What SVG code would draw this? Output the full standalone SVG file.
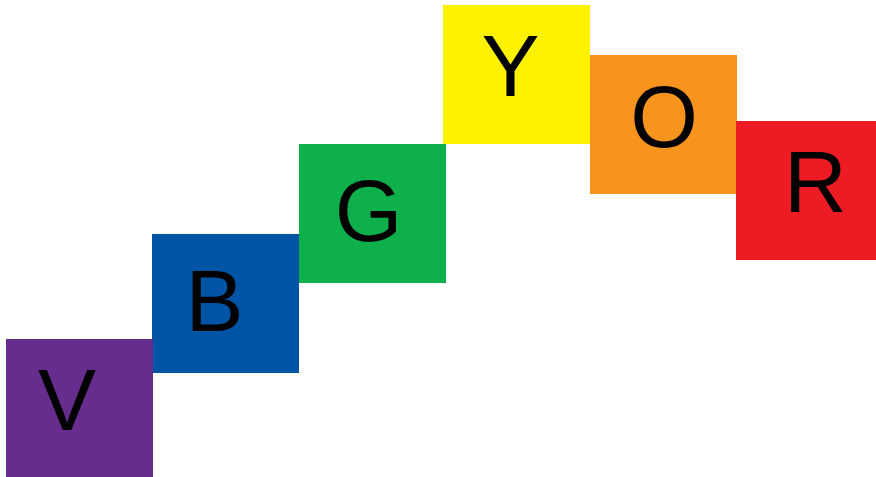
<svg xmlns="http://www.w3.org/2000/svg" width="876" height="477" viewBox="0 0 876 477">
<style>
text{font-family:"Liberation Sans",Arial,sans-serif;font-size:87px;fill:#000;text-anchor:middle}
</style>
<rect width="876" height="477" fill="#fff"/>
<g id="node-B"><rect x="152" y="234" width="147" height="139" fill="#0054A6"/><text x="214.5" y="331">B</text></g>
<g id="node-V"><rect x="6" y="339" width="147" height="138" fill="#662D8E"/><text x="67" y="430">V</text></g>
<g id="node-G"><rect x="299" y="144" width="147" height="139" fill="#0DB04B"/><text x="368.5" y="241">G</text></g>
<g id="node-Y"><rect x="443" y="5" width="147" height="139" fill="#FFF200"/><text x="510.5" y="96">Y</text></g>
<g id="node-O"><rect x="590" y="55" width="147" height="139" fill="#F7941D"/><text x="664" y="147">O</text></g>
<g id="node-R"><rect x="736" y="121" width="140" height="139" fill="#ED1C24"/><text x="815.5" y="212">R</text></g>
<g id="connectors"></g>
</svg>
